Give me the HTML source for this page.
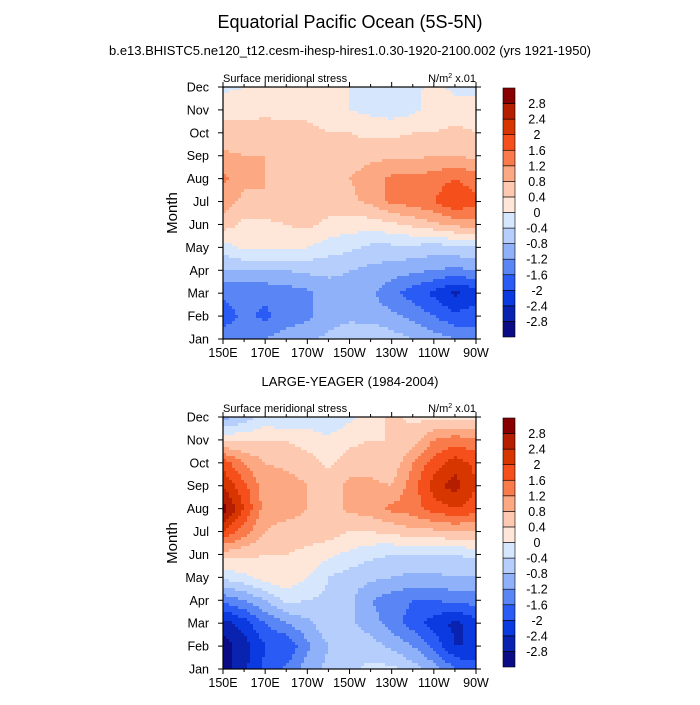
<!DOCTYPE html>
<html><head><meta charset="utf-8"><style>
body{margin:0;background:#fff;}
svg text{font-family:"Liberation Sans",sans-serif;fill:#000;}
</style></head><body>
<svg id="c" width="700" height="700" xmlns="http://www.w3.org/2000/svg">
<text x="350" y="28" font-size="18" text-anchor="middle">Equatorial Pacific Ocean (5S-5N)</text>
<text x="350" y="55" font-size="13" text-anchor="middle">b.e13.BHISTC5.ne120_t12.cesm-ihesp-hires1.0.30-1920-2100.002 (yrs 1921-1950)</text>
<text x="350" y="386" font-size="13" text-anchor="middle">LARGE-YEAGER (1984-2004)</text>
</svg>
<script>
const lons=["150E","160E","170E","180","170W","160W","150W","140W","130W","120W","110W","100W","90W"];
const months=["Jan","Feb","Mar","Apr","May","Jun","Jul","Aug","Sep","Oct","Nov","Dec"];
const xTickLabels=["150E","170E","170W","150W","130W","110W","90W"];
const levels=[-2.8,-2.4,-2,-1.6,-1.2,-0.8,-0.4,0,0.4,0.8,1.2,1.6,2,2.4,2.8];
const levelLabels=["-2.8","-2.4","-2","-1.6","-1.2","-0.8","-0.4","0","0.4","0.8","1.2","1.6","2","2.4","2.8"];
const topValues=[
[-1.4,-1.3,-1.2,-1.0,-0.9,-0.7,-0.5,-0.4,-0.6,-0.8,-1.0,-1.2,-1.4],
[-1.8,-1.5,-1.7,-1.4,-1.3,-1.0,-0.9,-1.0,-1.1,-1.3,-1.6,-1.9,-1.8],
[-1.5,-1.5,-1.5,-1.4,-1.3,-1.0,-0.9,-1.1,-1.5,-1.8,-2.1,-2.5,-2.2],
[-0.8,-0.8,-0.8,-0.8,-0.7,-0.7,-0.8,-0.9,-1.0,-1.1,-1.2,-1.3,-1.2],
[-0.2,0.1,0.1,0.1,0.0,-0.2,-0.3,-0.5,-0.5,-0.5,-0.6,-0.5,-0.4],
[0.6,0.3,0.3,0.4,0.5,0.3,0.2,0.2,0.3,0.5,0.7,0.9,1.0],
[1.0,0.7,0.8,0.7,0.6,0.6,0.7,0.9,1.3,1.4,1.6,2.0,1.7],
[1.3,0.9,0.8,0.6,0.6,0.7,0.8,1.0,1.3,1.3,1.4,1.6,1.4],
[0.9,0.8,0.8,0.6,0.6,0.5,0.6,0.7,0.7,0.7,0.8,0.8,0.7],
[0.5,0.5,0.6,0.5,0.5,0.4,0.4,0.3,0.3,0.4,0.4,0.5,0.4],
[0.3,0.3,0.3,0.3,0.3,0.2,0.0,-0.1,-0.2,-0.1,0.2,0.2,0.2],
[-0.1,0.0,0.1,0.1,0.1,0.2,0.0,-0.2,-0.2,-0.1,0.1,-0.1,-0.1]];
const bottomValues=[
[-3.0,-2.5,-1.9,-1.5,-1.0,-0.7,-0.5,-0.3,-0.3,-0.6,-1.0,-1.6,-1.8],
[-3.0,-2.6,-2.0,-2.0,-1.3,-0.8,-0.6,-0.6,-0.9,-1.2,-1.7,-2.4,-2.4],
[-2.6,-2.2,-1.6,-1.2,-0.9,-0.5,-0.7,-1.0,-1.4,-1.8,-2.2,-2.5,-2.2],
[-1.5,-1.2,-0.8,-0.3,-0.4,-0.5,-0.7,-1.2,-1.4,-1.6,-1.6,-1.5,-1.4],
[-0.3,-0.1,0.2,0.3,0.0,-0.4,-0.6,-0.7,-0.8,-0.9,-0.9,-0.8,-0.8],
[0.6,0.5,0.4,0.4,0.3,0.1,-0.1,-0.3,-0.4,-0.4,-0.4,-0.4,-0.3],
[2.0,1.4,0.8,0.6,0.6,0.6,0.4,0.4,0.5,0.7,0.7,0.8,0.8],
[3.0,2.0,1.0,1.0,0.8,0.6,0.9,1.0,1.3,1.4,1.8,2.0,1.8],
[2.4,1.7,1.0,1.0,0.8,0.6,0.9,0.9,0.8,1.4,2.2,2.6,2.0],
[1.8,1.2,0.8,0.7,0.6,0.3,0.6,0.6,0.5,1.2,1.8,2.2,1.9],
[0.3,0.3,0.4,0.4,0.2,0.1,0.3,0.4,0.4,0.6,1.2,1.4,1.3],
[-1.0,-0.6,-0.3,-0.4,-0.2,-0.4,-0.1,0.2,0.5,0.3,0.3,0.2,0.2]];
const colors=["#0b0b85","#0a22b0","#0a3ae0","#2a5cf5","#5a86f5","#8fb1fa","#b6cefc","#d6e6fc","#fee7d8","#fdc9b1","#fca883","#f97a4a","#f54f1c","#d83600","#b51e00","#880000"];
const NS="http://www.w3.org/2000/svg";
const svg=document.getElementById('c');
function mk(tag,attrs,parent){const e=document.createElementNS(NS,tag);for(const k in attrs)e.setAttribute(k,attrs[k]);(parent||svg).appendChild(e);return e;}
function colorOf(v){let i=0;while(i<levels.length&&v>=levels[i])i++;return colors[i];}
function panel(vals,top,name){
  const L=223,R=476,T=top,B=top+252;
  const g=mk('g',{});
  
  
  const xs=i=>L+(R-L)*i/(lons.length-1);
  const ys=j=>B-(B-T)*j/(months.length-1);
  const step=3;
  for(let py=T;py<B;py+=step){for(let px=L;px<R;px+=step){
    const fx=(px+step/2-L)/(R-L)*(lons.length-1), fy=(B-(py+step/2))/(B-T)*(months.length-1);
    const i0=Math.min(Math.floor(fx),lons.length-2), j0=Math.min(Math.floor(fy),months.length-2);
    const tx=fx-i0, ty=fy-j0;
    const v=(1-tx)*(1-ty)*vals[j0][i0]+tx*(1-ty)*vals[j0][i0+1]+(1-tx)*ty*vals[j0+1][i0]+tx*ty*vals[j0+1][i0+1];
    const r=mk('rect',{x:px,y:py,width:Math.min(step,R-px)+0.3,height:Math.min(step,B-py)+0.3,fill:colorOf(v)},g);
    
    
  }}
  mk('rect',{x:L,y:T,width:R-L,height:B-T,fill:'none',stroke:'#000','stroke-width':1.2},g);
  months.forEach((m,j)=>{const y=ys(j);
    mk('line',{x1:L-5,y1:y,x2:L,y2:y,stroke:'#000'},g);mk('line',{x1:R,y1:y,x2:R+5,y2:y,stroke:'#000'},g);
    const t=mk('text',{x:L-14,y:y+4.5,'font-size':12.5,'text-anchor':'end'},g);t.textContent=m;
    });
  lons.forEach((l,i)=>{const x=xs(i);const major=i%2===0;const len=major?5:3;
    mk('line',{x1:x,y1:B,x2:x,y2:B+len,stroke:'#000'},g);mk('line',{x1:x,y1:T-len,x2:x,y2:T,stroke:'#000'},g);
    if(major){const t=mk('text',{x:x,y:B+18,'font-size':12.5,'text-anchor':'middle'},g);t.textContent=xTickLabels[i/2];
      }});
  const yl=mk('text',{x:177,y:(T+B)/2,'font-size':15,'text-anchor':'middle',transform:`rotate(-90 177 ${(T+B)/2})`},g);yl.textContent='Month';
  
  const lt=mk('text',{x:L,y:T-5,'font-size':11},g);lt.textContent='Surface meridional stress';
  
  const rt=mk('text',{x:R,y:T-5,'font-size':11,'text-anchor':'end'},g);rt.innerHTML='N/m<tspan dy="-4" font-size="7">2</tspan><tspan dy="4"> x.01</tspan>';
  
  const cb=mk('g',{},g);
  
  const cT=T+1,cB=B-2,n=colors.length,h=(cB-cT)/n;
  colors.forEach((c,k)=>{const r=mk('rect',{x:503,y:cB-(k+1)*h,width:12,height:h,fill:c,stroke:'#000','stroke-width':0.6},cb);
    });
  levelLabels.forEach((s,k)=>{const y=cB-(k+1)*h;const t=mk('text',{x:537,y:y+4.5,'font-size':12.5,'text-anchor':'middle'},cb);t.textContent=s;
    });
}
panel(topValues,87,'top-panel');
panel(bottomValues,417,'bottom-panel');
</script>
</body></html>
